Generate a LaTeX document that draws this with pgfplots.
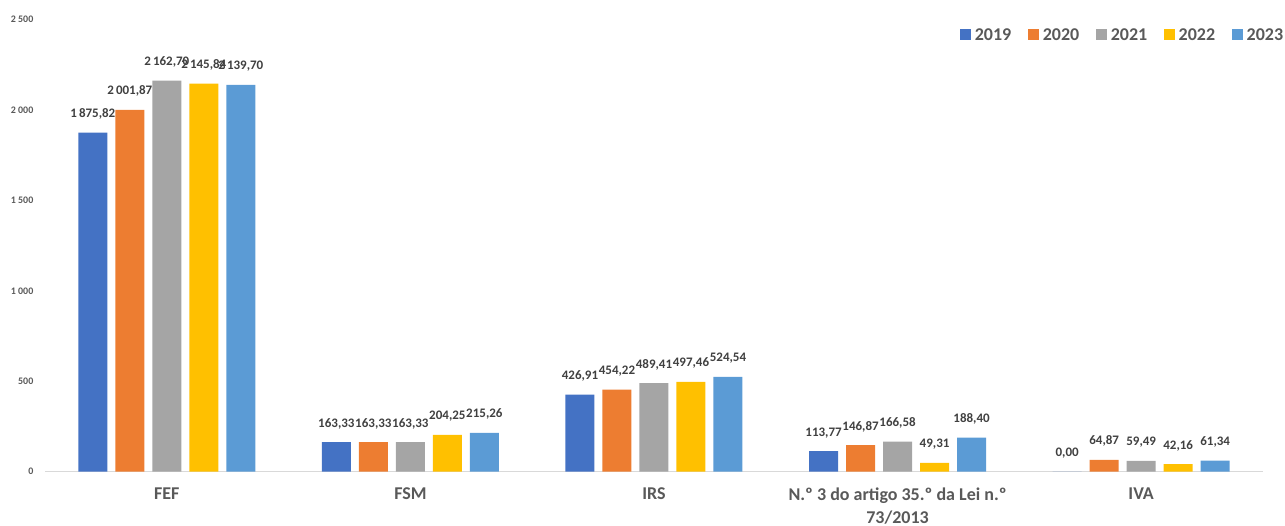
\documentclass[border=0pt]{standalone}
\usepackage{fontspec}
\setmainfont{Carlito}
\usepackage{pgfplots}
\pgfplotsset{compat=1.18}
\definecolor{c19}{HTML}{4472C4}
\definecolor{c20}{HTML}{ED7D31}
\definecolor{c21}{HTML}{A5A5A5}
\definecolor{c22}{HTML}{FFC000}
\definecolor{c23}{HTML}{5B9BD5}
\definecolor{txt}{HTML}{595959}
\definecolor{lbl}{HTML}{404040}
\definecolor{axl}{HTML}{D9D9D9}
\begin{document}
\begin{tikzpicture}[x=1pt,y=1pt]
\useasboundingbox (0,0) rectangle (1285,526);
\begin{axis}[
  at={(45pt,54.3pt)}, anchor=south west,
  scale only axis, width=1218pt, height=452pt,
  ymin=0, ymax=2500, xmin=-0.5, xmax=4.5,
  ybar=8pt, bar width=29pt,
  axis x line=bottom, axis y line=left,
  x axis line style={draw=axl, line width=1.3pt, -},
  y axis line style={draw=none},
  tick style={draw=none},
  xtick={0,1,2,3,4},
  xticklabels={FEF, FSM, IRS, {N.º 3 do artigo 35.º da Lei n.º\\73/2013}, IVA},
  xticklabel style={font=\fontsize{18}{23}\selectfont\bfseries, text=txt, align=center, anchor=north, yshift=-10pt},
  ytick={0,500,1000,1500,2000,2500},
  yticklabels={0,500,1~000,1~500,2~000,2~500},
  yticklabel style={font=\fontsize{10}{12}\selectfont\bfseries, text=txt, anchor=east, xshift=-6pt},
  nodes near coords,
  nodes near coords style={font=\fontsize{13}{15}\selectfont\bfseries, text=lbl, anchor=base, yshift=15pt, inner sep=0pt},
  legend columns=5,
  legend style={at={(1.0168,0.9662)}, anchor=east, draw=none, fill=none, inner sep=0pt,
    font=\fontsize{18}{20}\selectfont\bfseries, text=txt, nodes={inner sep=0pt},
    /tikz/every odd column/.append style={column sep=4pt},
    /tikz/every even column/.append style={column sep=16.5pt}},
  legend image code/.code={\fill[#1,draw=none] (0pt,-5.5pt) rectangle (11pt,5.5pt);},
  /pgf/number format/.cd, fixed, fixed zerofill, precision=2, use comma, 1000 sep={\,}, assume math mode=true,
]
\addplot[fill=c19, draw=none] coordinates {(0,1875.82) (1,163.33) (2,426.91) (3,113.77) (4,0.00)};
\addplot[fill=c20, draw=none] coordinates {(0,2001.87) (1,163.33) (2,454.22) (3,146.87) (4,64.87)};
\addplot[fill=c21, draw=none] coordinates {(0,2162.70) (1,163.33) (2,489.41) (3,166.58) (4,59.49)};
\addplot[fill=c22, draw=none] coordinates {(0,2145.84) (1,204.25) (2,497.46) (3,49.31) (4,42.16)};
\addplot[fill=c23, draw=none] coordinates {(0,2139.70) (1,215.26) (2,524.54) (3,188.40) (4,61.34)};
\legend{2019,2020,2021,2022,2023}
\end{axis}
\end{tikzpicture}
\end{document}
